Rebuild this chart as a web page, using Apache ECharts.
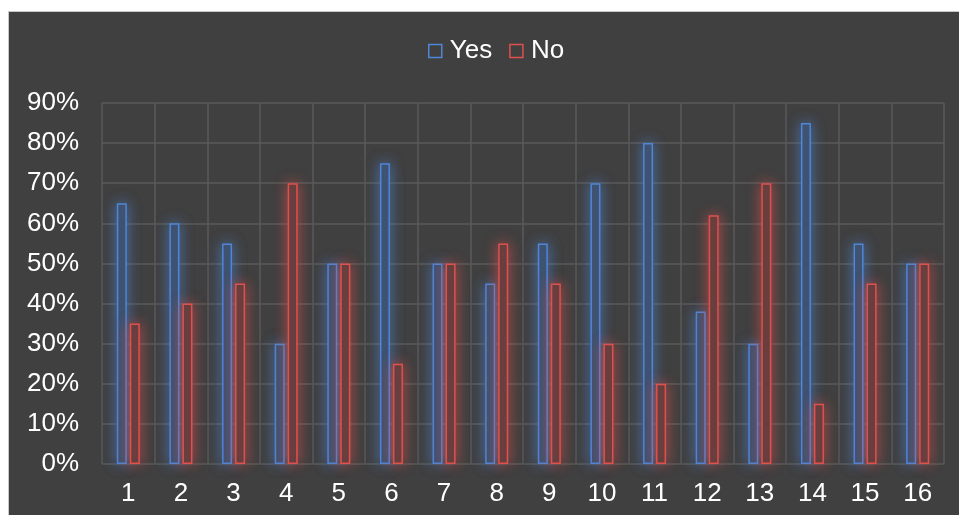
<!DOCTYPE html>
<html>
<head>
<meta charset="utf-8">
<script src="https://cdn.jsdelivr.net/npm/echarts@6/dist/echarts.min.js"></script>
<style>
  html, body { margin: 0; padding: 0; background: #ffffff; }
  #main {
    position: absolute; left: 8px; top: 11px;
    width: 950px; height: 504px;
    background: #404040;
    border-left: 1px solid #c8c8c8;
    border-top: 1px solid #c8c8c8;
  }
</style>
</head>
<body>
<div id="main"></div>
<script>
var categories = ['1','2','3','4','5','6','7','8','9','10','11','12','13','14','15','16'];
var yesValues = [65, 60, 55, 30, 50, 75, 50, 45, 55, 70, 80, 38, 30, 85, 55, 50];
var noValues  = [35, 40, 45, 70, 50, 25, 50, 55, 45, 30, 20, 62, 70, 15, 45, 50];

var blue = '#4f86d6';
var red = '#e0504d';

var chart = echarts.init(document.getElementById('main'));

function barSeries(name, data, color, fill, glow) {
    return {
        name: name,
        type: 'bar',
        data: data,
        barWidth: 10,
        barGap: '30%',
        itemStyle: {
            color: fill,
            borderColor: color,
            borderWidth: 1.5,
            shadowBlur: 14,
            shadowColor: glow
        },
        emphasis: { disabled: true }
    };
}

var option = {
    backgroundColor: '#404040',
    textStyle: { fontFamily: 'Liberation Sans, Arial, sans-serif' },
    legend: {
        top: 21,
        left: 414,
        itemWidth: 13,
        itemHeight: 13,
        itemGap: 17,
        icon: 'rect',
        textStyle: { color: '#ffffff', fontSize: 26, padding: [0, 0, 0, 3] },
        data: [
            { name: 'Yes', itemStyle: { color: 'transparent', borderColor: blue, borderWidth: 1.5, shadowBlur: 0 } },
            { name: 'No', itemStyle: { color: 'transparent', borderColor: red, borderWidth: 1.5, shadowBlur: 0 } }
        ]
    },
    grid: { left: 93, right: 15, top: 91, bottom: 52 },
    xAxis: {
        type: 'category',
        data: categories,
        axisLine: { show: false },
        axisTick: { show: false },
        axisLabel: { color: '#ffffff', fontSize: 26, margin: 17 },
        splitLine: { show: true, lineStyle: { color: '#5a5a5a', width: 1.5 } }
    },
    yAxis: {
        type: 'value',
        min: 0,
        max: 90,
        interval: 10,
        axisLine: { show: false },
        axisTick: { show: false },
        axisLabel: { color: '#ffffff', fontSize: 26, margin: 23, formatter: '{value}%' },
        splitLine: { lineStyle: { color: '#5a5a5a', width: 1.5 } }
    },
    series: [
        barSeries('Yes', yesValues, blue, '#3e4d66', 'rgba(79,134,214,0.75)'),
        barSeries('No', noValues, red, '#5a3d3d', 'rgba(224,80,77,0.75)')
    ]
};

chart.setOption(option);
</script>
</body>
</html>
